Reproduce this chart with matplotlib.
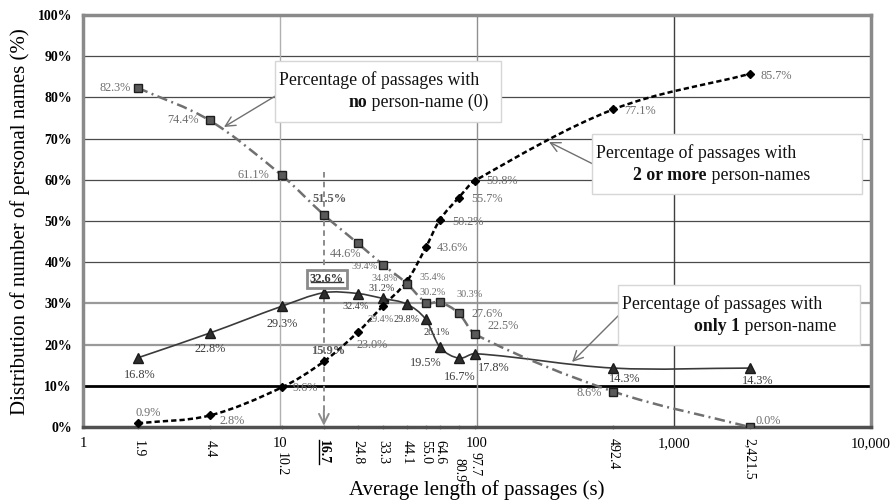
import numpy as np
import matplotlib
matplotlib.use('Agg')
import matplotlib.pyplot as plt
from matplotlib.path import Path
from matplotlib.patches import PathPatch
from matplotlib.offsetbox import TextArea, HPacker, VPacker, AnnotationBbox, DrawingArea
from matplotlib.lines import Line2D
from matplotlib.ticker import FixedLocator, NullFormatter

plt.rcParams['font.family'] = ['Liberation Serif', 'DejaVu Serif']
plt.rcParams['lines.scale_dashes'] = False

# ---------------- data ----------------
avg_length = [1.9, 4.4, 10.2, 16.7, 24.8, 33.3, 44.1, 55.0, 64.6, 80.9, 97.7, 492.4, 2421.5]
length_labels = ['1.9', '4.4', '10.2', '16.7', '24.8', '33.3', '44.1', '55.0', '64.6',
                 '80.9', '97.7', '492.4', '2,421.5']
pct_none = [82.3, 74.4, 61.1, 51.5, 44.6, 39.4, 34.8, 30.2, 30.3, 27.6, 22.5, 8.6, 0.0]
pct_one = [16.8, 22.8, 29.3, 32.6, 32.4, 31.2, 29.8, 26.1, 19.5, 16.7, 17.8, 14.3, 14.3]
pct_two = [0.9, 2.8, 9.6, 15.9, 23.0, 29.4, 35.4, 43.6, 50.2, 55.7, 59.8, 77.1, 85.7]
major_ticks = [1, 10, 100, 1000, 10000]
major_labels = ['1', '10', '100', '1,000', '10,000']
y_ticks = list(range(0, 101, 10))
y_labels = ['%d%%' % v for v in y_ticks]
highlight = 3  # index of the highlighted passage length

# ---------------- label placement (style) ----------------
off_none = [(-23, 0), (-27, 0), (-28, 0), (6, 16), (-12, -11), (-18, -2), (-22, 5),
            (7, 10), (30, 8), (28, -1), (28, 8), (-24, -1), (19, 6)]
off_two = [(10, 10), (22, -6), (24, -1), (4, 10), (14, -13), (-2, -14), (26, 4),
           (27, -1), (28, -2), (28, -1), (27, 0), (27, -2), (27, -2)]
off_one = [(2, -17), (0, -16), (0, -18), (3, 14), (-2, -13), (-1, 10), (0, -15),
           (11, -13), (-14, -16), (1, -19), (19, -14), (11, -11), (8, -13)]
small_none = {5, 6, 7, 8}
small_two = {5, 6}
small_one = {4, 5, 6, 7}
tick_drop = [0, 0, 12, 0, 0, 0, 0, 0, 0, 18, 12, -2, -2]


def smooth_path(xs, ys):
    lx = np.log10(np.asarray(xs, float))
    y = np.asarray(ys, float)
    n = len(lx)
    m = np.zeros(n)
    for i in range(n):
        a = max(i - 1, 0)
        b = min(i + 1, n - 1)
        m[i] = (y[b] - y[a]) / (lx[b] - lx[a])
    verts = [(lx[0], y[0])]
    codes = [Path.MOVETO]
    for i in range(n - 1):
        d = (lx[i + 1] - lx[i]) / 3.0
        verts += [(lx[i] + d, y[i] + m[i] * d),
                  (lx[i + 1] - d, y[i + 1] - m[i + 1] * d),
                  (lx[i + 1], y[i + 1])]
        codes += [Path.CURVE4] * 3
    v = np.array(verts)
    v[:, 0] = 10 ** v[:, 0]
    return Path(v, codes)


fig = plt.figure(figsize=(8.9, 5.03), dpi=100)
ax = fig.add_axes([83 / 890, 1 - 427 / 503, 788 / 890, 412 / 503])
ax.set_xscale('log')
ax.set_xlim(1, 10000)
ax.set_ylim(0, 100)

# grid
for v in y_ticks[1:-1]:
    if v == 10:
        ax.axhline(v, color='black', lw=2.0, zorder=1)
    elif v in (20, 30):
        ax.axhline(v, color='#9a9a9a', lw=1.6, zorder=1)
    else:
        ax.axhline(v, color='#4a4a4a', lw=0.9, zorder=1)
for v, c in zip(major_ticks[1:-1], ['#b0b0b0', '#909090', '#404040']):
    ax.axvline(v, color=c, lw=1.0, zorder=1)

for s in ['top', 'right', 'left']:
    ax.spines[s].set_color('#8a8a8a')
    ax.spines[s].set_linewidth(2.5)
ax.spines['bottom'].set_color('#505050')
ax.spines['bottom'].set_linewidth(2.5)

ax.set_yticks(y_ticks)
ax.set_yticklabels(y_labels, fontweight='bold', fontsize=10)
ax.tick_params(axis='y', length=0, pad=8)
ax.xaxis.set_major_locator(FixedLocator(major_ticks))
ax.set_xticklabels(major_labels, fontsize=10.5)
ax.xaxis.set_minor_locator(FixedLocator(avg_length))
ax.xaxis.set_minor_formatter(NullFormatter())
ax.tick_params(axis='x', which='major', length=0, pad=7)
ax.tick_params(axis='x', which='minor', length=3, direction='inout', color='#999999', width=1)

# rotated data-length labels
rot_texts = []
for i, (xv, lab) in enumerate(zip(avg_length, length_labels)):
    t = ax.annotate(lab, xy=(xv, 0), xycoords=('data', 'axes fraction'),
                    xytext=(0, -13 - tick_drop[i]), textcoords='offset pixels',
                    rotation=-90, ha='center', va='top', fontsize=10,
                    fontweight='bold' if i == highlight else 'normal',
                    annotation_clip=False)
    rot_texts.append(t)

# lines
ax.add_patch(PathPatch(smooth_path(avg_length, pct_one), fill=False, ec='#3a3a3a',
                       lw=1.2, zorder=3))
ax.add_patch(PathPatch(smooth_path(avg_length, pct_two), fill=False, ec='black',
                       lw=1.8, linestyle=(0, (3.8, 2.2)), zorder=3))
ax.add_patch(PathPatch(smooth_path(avg_length, pct_none), fill=False, ec='#707070',
                       lw=1.8, linestyle=(0, (7.5, 3.2, 1.4, 3.2)), zorder=3))

# highlighted vertical dashed arrow
xh = avg_length[highlight]
ax.plot([xh, xh], [62, 1.5], color='#8c8c8c', lw=1.4, linestyle=(0, (4, 3)), zorder=2)
ax.annotate('', xy=(xh, 0.3), xytext=(xh, 4),
            arrowprops=dict(arrowstyle='->,head_length=0.7,head_width=0.35',
                            color='#8c8c8c', lw=1.4, shrinkA=0, shrinkB=0), zorder=2)

# markers
ax.plot(avg_length, pct_one, ls='none', marker='^', ms=6.5, mfc='#2e2e2e', mec='#1a1a1a', zorder=5)
ax.plot(avg_length, pct_two, ls='none', marker='D', ms=4.3, mfc='black', mec='black', zorder=5)
ax.plot(avg_length, pct_none, ls='none', marker='s', ms=6, mfc='#5a5a5a', mec='#1e1e1e', mew=1, zorder=5)


# data labels
def put_labels(vals, offs, smalls, color):
    for i, (xv, p) in enumerate(zip(avg_length, vals)):
        if i == highlight:
            continue
        ax.annotate('%.1f%%' % p, xy=(xv, p), xytext=offs[i], textcoords='offset pixels',
                    ha='center', va='center', color=color,
                    fontsize=7.3 if i in smalls else 8.8, zorder=6)


put_labels(pct_none, off_none, small_none, '#6e6e6e')
put_labels(pct_two, off_two, small_two, '#6e6e6e')
put_labels(pct_one, off_one, small_one, '#3c3c3c')

ax.annotate('%.1f%%' % pct_none[highlight], xy=(xh, pct_none[highlight]),
            xytext=off_none[highlight], textcoords='offset pixels', ha='center',
            va='center', color='#5a5a5a', fontsize=9, fontweight='bold', zorder=6)
ax.annotate('%.1f%%' % pct_two[highlight], xy=(xh, pct_two[highlight]),
            xytext=off_two[highlight], textcoords='offset pixels', ha='center',
            va='center', color='#5a5a5a', fontsize=9, fontweight='bold', zorder=6)
box_lab = ax.annotate('%.1f%%' % pct_one[highlight], xy=(xh, pct_one[highlight]),
                      xytext=off_one[highlight], textcoords='offset pixels', ha='center',
                      va='center', color='#3a3a3a', fontsize=9, fontweight='bold', zorder=7,
                      bbox=dict(boxstyle='square,pad=0.25', fc='white', ec='#8a8a8a', lw=2))

# callout arrows
arrow_kw = dict(arrowstyle='->,head_length=0.7,head_width=0.35', color='#707070', lw=1.0,
                shrinkA=0, shrinkB=0)
ax.annotate('', xy=(0.1789, 0.7282), xytext=(0.2462, 0.8058), xycoords='axes fraction',
            arrowprops=arrow_kw, zorder=8)
ax.annotate('', xy=(0.5914, 0.6917), xytext=(0.6497, 0.6359), xycoords='axes fraction',
            arrowprops=arrow_kw, zorder=8)
ax.annotate('', xy=(0.6206, 0.1578), xytext=(0.6815, 0.2743), xycoords='axes fraction',
            arrowprops=arrow_kw, zorder=8)


# callout boxes
def callout(xy, bold, rest, indent, trail):
    fs = 12.8
    l1 = TextArea('Percentage of passages with', textprops=dict(fontsize=fs, color='#111111'))
    parts = [DrawingArea(indent, 1),
             TextArea(bold, textprops=dict(fontsize=fs, fontweight='bold', color='#111111')),
             TextArea(rest, textprops=dict(fontsize=fs, color='#111111')),
             DrawingArea(trail, 1)]
    l2 = HPacker(children=parts, align='baseline', pad=0, sep=0)
    vp = VPacker(children=[DrawingArea(1, 1), l1, l2, DrawingArea(1, 1)],
                 align='left', pad=0, sep=3.5)
    ab = AnnotationBbox(vp, xy, xycoords='axes fraction', box_alignment=(0, 1),
                        pad=0.6, frameon=True,
                        bboxprops=dict(boxstyle='square', ec='#d6d6d6', fc='white', lw=1))
    ab.set_zorder(9)
    ax.add_artist(ab)


callout((0.2490, 0.8786), 'no', ' person-name (0)', 50, 6)
callout((0.6510, 0.7015), '2 or more', ' person-names', 27, 34)
callout((0.6840, 0.3350), 'only 1', ' person-name', 52, 14)

# axis titles
fig.text(477 / 890, 1 - 490 / 503, 'Average length of passages (s)', ha='center',
         va='center', fontsize=15)
fig.text(20 / 890, 1 - 222 / 503, 'Distribution of number of personal names (%)',
         ha='center', va='center', rotation=90, fontsize=15)

# underlines for highlighted labels
fig.canvas.draw()
r = fig.canvas.get_renderer()
inv = fig.transFigure.inverted()
bb = box_lab.get_window_extent(r)
y_ul = bb.y0 + 3
p0, p1 = inv.transform([(bb.x0 + 1, y_ul), (bb.x1 - 1, y_ul)])
fig.add_artist(Line2D([p0[0], p1[0]], [p0[1], p1[1]], color='#3a3a3a', lw=1.0, zorder=10))
bb = rot_texts[highlight].get_window_extent(r)
x_ul = bb.x0 + 2
p0, p1 = inv.transform([(x_ul, bb.y0), (x_ul, bb.y1)])
fig.add_artist(Line2D([p0[0], p1[0]], [p0[1], p1[1]], color='black', lw=1.0))

fig.savefig('out.png', dpi=100)
